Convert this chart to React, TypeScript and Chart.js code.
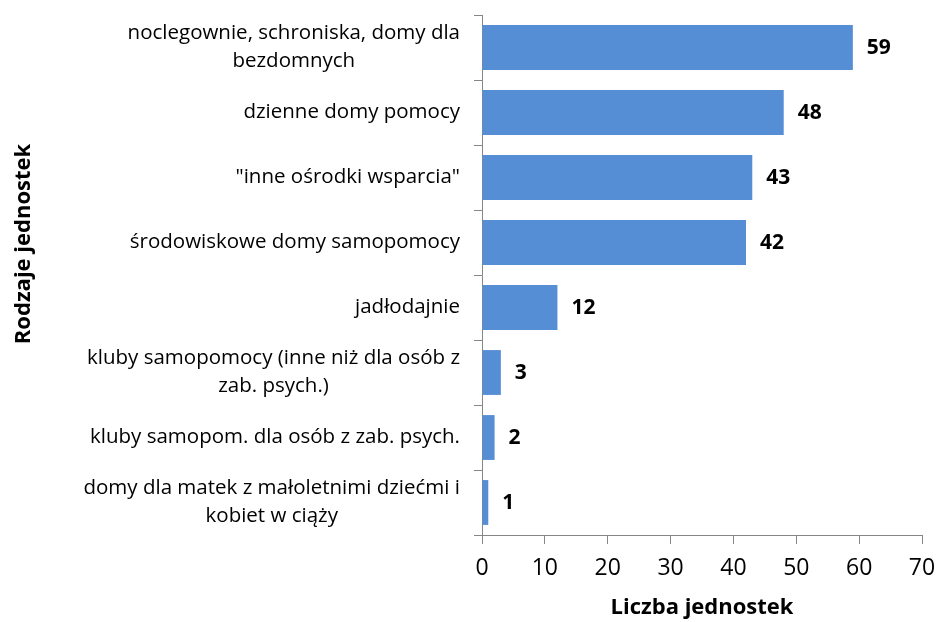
import { useEffect, useRef } from 'react';
import { Chart, registerables } from 'chart.js';

Chart.register(...registerables);

const categories: string[][] = [
  ['noclegownie, schroniska, domy dla', 'bezdomnych'],
  ['dzienne domy pomocy'],
  ['"inne ośrodki wsparcia"'],
  ['środowiskowe domy samopomocy'],
  ['jadłodajnie'],
  ['kluby samopomocy (inne niż dla osób z', 'zab. psych.)'],
  ['kluby samopom. dla osób z zab. psych.'],
  ['domy dla matek z małoletnimi dziećmi i', 'kobiet w ciąży'],
];
const values = [59, 48, 43, 42, 12, 3, 2, 1];
const xMin = 0;
const xMax = 70;
const xStep = 10;
const xTitle = 'Liczba jednostek';
const yTitle = 'Rodzaje jednostek';

const FONT = '"Open Sans", sans-serif';
const AXIS = '#868686';

export default function App() {
  const ref = useRef<HTMLCanvasElement>(null);
  useEffect(() => {
    if (!ref.current) return;
    const customText = {
      id: 'customText',
      afterDraw(chart: any) {
        const ctx = chart.ctx;
        const yScale = chart.scales.y;
        ctx.save();
        ctx.fillStyle = '#000';
        ctx.textBaseline = 'middle';
        // category labels: block right-aligned, lines centered
        ctx.font = `20.5px ${FONT}`;
        ctx.textAlign = 'center';
        const lh = 28;
        categories.forEach((lines, i) => {
          const cy = yScale.getPixelForValue(i);
          const w = Math.max(...lines.map((l) => ctx.measureText(l).width));
          const right = yScale.right - 22;
          const cx = right - w / 2;
          lines.forEach((l, j) => {
            ctx.fillText(l, cx, cy + (j - (lines.length - 1) / 2) * lh);
          });
        });
        // value labels
        ctx.font = `bold 21px ${FONT}`;
        ctx.textAlign = 'left';
        const meta = chart.getDatasetMeta(0);
        meta.data.forEach((bar: any, i: number) => {
          ctx.fillText(String(values[i]), bar.x + 14, bar.y + 1);
        });
        // y title
        const area = chart.chartArea;
        ctx.font = `bold 22px ${FONT}`;
        ctx.textAlign = 'center';
        ctx.translate(24, (area.top + area.bottom) / 2 - 31);
        ctx.rotate(-Math.PI / 2);
        ctx.fillText(yTitle, 0, 0);
        ctx.restore();
      },
    };
    const chart = new Chart(ref.current, {
      type: 'bar',
      data: {
        labels: categories.map((c) => c.join(' ')),
        datasets: [
          {
            data: values,
            backgroundColor: '#558ED5',
            barPercentage: 0.69,
            categoryPercentage: 1,
          },
        ],
      },
      options: {
        indexAxis: 'y',
        animation: false,
        responsive: false,
        layout: { padding: { top: 15, right: 0, left: 0, bottom: 0 } },
        plugins: { legend: { display: false }, tooltip: { enabled: false } },
        scales: {
          x: {
            min: xMin,
            max: xMax,
            ticks: {
              stepSize: xStep,
              color: '#000',
              font: { family: FONT, size: 23 },
              padding: 11,
            },
            grid: { drawOnChartArea: false, tickLength: 9, color: AXIS },
            border: { color: AXIS },
            title: {
              display: true,
              text: xTitle,
              color: '#000',
              font: { family: FONT, size: 22, weight: 'bold' },
              padding: { top: 0, bottom: 1 },
            },
            afterFit: (s: any) => {
              s.height = 87;
              s.paddingRight = 16;
            },
          },
          y: {
            ticks: { display: false },
            grid: { offset: true, drawOnChartArea: false, tickLength: 8, color: AXIS },
            border: { color: AXIS },
            afterFit: (s: any) => {
              s.width = 482;
            },
          },
        },
      },
      plugins: [customText],
    } as any);
    return () => chart.destroy();
  }, []);
  return (
    <div style={{ position: 'fixed', left: 0, top: 0, width: 938, height: 622, background: '#fff' }}>
      <canvas ref={ref} width={938} height={622} style={{ display: 'block' }} />
    </div>
  );
}
